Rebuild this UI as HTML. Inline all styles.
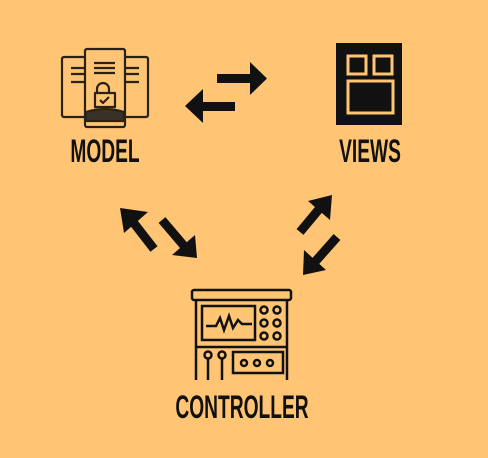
<!DOCTYPE html>
<html><head><meta charset="utf-8"><style>
html,body{margin:0;padding:0;background:#FFC574;}
svg{display:block}
text{font-family:"Liberation Sans",sans-serif;font-weight:bold;fill:#111}
</style></head><body>
<svg width="488" height="458" viewBox="0 0 488 458" xmlns="http://www.w3.org/2000/svg">
<rect width="488" height="458" fill="#FFC574"/>
<!-- MODEL icon -->
<g stroke="#2a2216" stroke-width="2.2" fill="#FFC574" stroke-linejoin="round">
<rect x="62" y="57" width="24" height="60" rx="2"/>
<rect x="123" y="57" width="25" height="60" rx="2"/>
<rect x="85" y="49" width="40" height="78" rx="2"/>
<path d="M71 68h13M71 74h13M71 82h13M126 68h13M126 74h13M126 82h13M94 63h21M94 68h21M94 73h21"/>
<path d="M97 93v-4a6 6 0 0 1 12 0v4"/>
<rect x="95" y="93" width="20" height="14"/>
<path d="M100 100l3 3 6-6"/>
<path d="M86 112q19 -6 38 0v9h-38z" fill="#3a3228"/>
</g>
<text x="105" y="162" font-size="32" text-anchor="middle" transform="translate(105 0) scale(0.6 1) translate(-105 0)">MODEL</text>
<!-- VIEWS icon -->
<rect x="336" y="43" width="66" height="82" fill="#111"/>
<g fill="none" stroke="#FFC574" stroke-width="3">
<rect x="348" y="56" width="18" height="18"/>
<rect x="374" y="56" width="18" height="18"/>
<rect x="348" y="81" width="45" height="32"/>
</g>
<text x="370" y="162" font-size="32" text-anchor="middle" transform="translate(370 0) scale(0.6 1) translate(-370 0)">VIEWS</text>
<!-- arrows -->
<g fill="#111">
<polygon points="217,74 250,74 250,62 267,78.5 250,95 250,83 217,83"/>
<polygon points="235,102 203,102 203,89 185,106 203,123 203,111 235,111"/>
</g>
<g stroke="#111" stroke-width="9" fill="none">
<line x1="154" y1="249" x2="133" y2="222"/>
<line x1="162" y1="220" x2="185" y2="247"/>
<line x1="300" y1="232" x2="320" y2="208"/>
<line x1="337" y1="237" x2="314" y2="263"/>
</g>
<g fill="#111">
<polygon points="120,208 148,212 124,233"/>
<polygon points="197,258 172,255 195,235"/>
<polygon points="332,195 330,220 308,201"/>
<polygon points="303,275 304,250 326,270"/>
</g>
<!-- CONTROLLER icon -->
<g stroke="#111" stroke-width="2.5" fill="none">
<rect x="192" y="290" width="99" height="10" rx="2"/>
<path d="M196 300v80M287 300v80M196 347h91"/>
<rect x="202" y="306" width="53" height="34"/>
<path d="M206 326h10l4-8 4 12 5-14 4 12 5-8 4 4h10"/>
<circle cx="264" cy="310" r="3.5"/><circle cx="277" cy="310" r="3.5"/>
<circle cx="264" cy="323" r="3.5"/><circle cx="277" cy="323" r="3.5"/>
<circle cx="264" cy="336" r="3.5"/><circle cx="277" cy="336" r="3.5"/>
<circle cx="208" cy="355" r="3.5"/><circle cx="222" cy="355" r="3.5"/>
<path d="M208 359v21M222 359v21"/>
<rect x="233" y="352" width="50" height="21"/>
<circle cx="244" cy="363" r="3"/><circle cx="257" cy="363" r="3"/><circle cx="270" cy="363" r="3"/>
</g>
<text x="242" y="418" font-size="32" text-anchor="middle" transform="translate(242 0) scale(0.6 1) translate(-242 0)">CONTROLLER</text>
</svg>
</body></html>
